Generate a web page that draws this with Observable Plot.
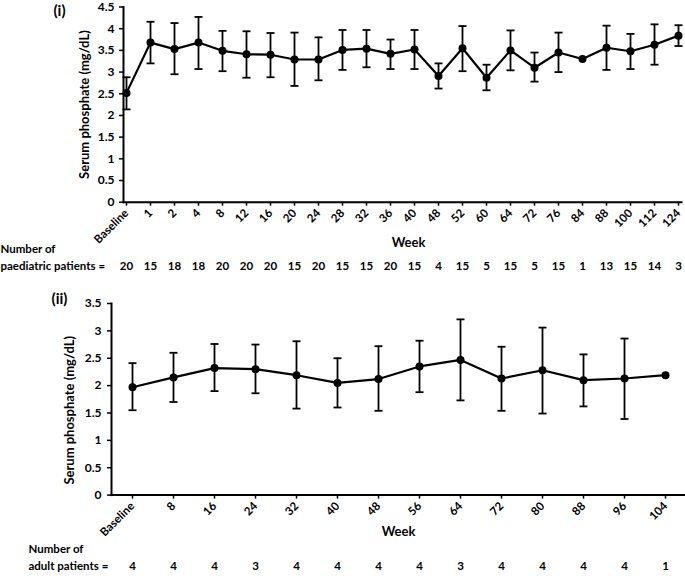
<!DOCTYPE html>
<html><head><meta charset="utf-8">
<script src="https://cdn.jsdelivr.net/npm/d3@7"></script>
<script src="https://cdn.jsdelivr.net/npm/@observablehq/plot@0.6"></script>
<style>
body{margin:0;background:#fff;}
#wrap{position:relative;width:685px;height:578px;}
#wrap svg{position:absolute;left:0;overflow:visible;}
</style></head><body><div id="wrap"></div>
<script>
// Panel (i): paediatric patients
const weeksPaed = ["Baseline","1","2","4","8","12","16","20","24","28","32","36","40","48","52","60","64","72","76","84","88","100","112","124"];
const meanPaed = [2.52,3.68,3.53,3.68,3.49,3.41,3.40,3.29,3.29,3.51,3.54,3.42,3.52,2.91,3.55,2.87,3.50,3.10,3.45,3.30,3.56,3.48,3.63,3.84];
const lowPaed  = [2.14,3.20,2.95,3.07,3.02,2.87,2.88,2.68,2.81,3.05,3.11,3.07,3.07,2.62,3.02,2.58,3.04,2.78,3.00,null,3.05,3.07,3.17,3.60];
const highPaed = [2.88,4.16,4.13,4.27,3.95,3.94,3.90,3.91,3.80,3.97,3.97,3.75,3.97,3.20,4.06,3.17,3.96,3.45,3.91,null,4.07,3.88,4.10,4.08];
const nPaed    = [20,15,18,18,20,20,20,15,20,15,15,20,15,4,15,5,15,5,15,1,13,15,14,3];
const yTicksPaed = [0,0.5,1,1.5,2,2.5,3,3.5,4,4.5];

// Panel (ii): adult patients
const weeksAdult = ["Baseline","8","16","24","32","40","48","56","64","72","80","88","96","104"];
const meanAdult = [1.97,2.15,2.32,2.30,2.19,2.05,2.12,2.35,2.47,2.13,2.28,2.10,2.13,2.19];
const lowAdult  = [1.55,1.70,1.90,1.86,1.58,1.60,1.54,1.88,1.73,1.54,1.49,1.62,1.39,null];
const highAdult = [2.41,2.60,2.76,2.75,2.81,2.50,2.72,2.82,3.21,2.71,3.06,2.57,2.86,null];
const nAdult    = [4,4,4,3,4,4,4,4,3,4,4,4,4,1];
const yTicksAdult = [0,0.5,1,1.5,2,2.5,3,3.5];

const yLabel = "Serum phosphate (mg/dL)";
const xLabel = "Week";

function rows(weeks, mean, low, high, n) {
  return weeks.map((w, i) => ({week: w, mean: mean[i], low: low[i], high: high[i], n: n[i]}));
}
const capSymbol = {draw(ctx, size) { const r = Math.sqrt(size / Math.PI); ctx.moveTo(-r, 0); ctx.lineTo(r, 0); }};

function panel(cfg) {
  const data = rows(cfg.weeks, cfg.mean, cfg.low, cfg.high, cfg.n);
  const err = data.filter(d => d.low != null);
  const one = s => [s];
  const id = d => d;
  const lbl = {text: id, lineAnchor: "middle"};
  return Plot.plot({
    width: 685, height: cfg.height,
    marginTop: cfg.mt, marginBottom: cfg.mb, marginLeft: cfg.ml, marginRight: cfg.mr,
    style: {fontFamily: "Lato, sans-serif", fontWeight: 700, fontSize: "11px", color: "#000", background: "transparent", overflow: "visible"},
    x: {type: "point", domain: cfg.weeks, padding: cfg.pad},
    y: {domain: cfg.ydomain},
    marks: [
      Plot.axisY({ticks: cfg.yticks, tickFormat: d => String(d), tickSize: 4, tickPadding: cfg.ytp, fontSize: 12, label: null, strokeWidth: 1.5}),
      Plot.axisX({tickRotate: -45, tickSize: 4, tickPadding: 5, fontSize: 11.5, label: null, strokeWidth: 1.5}),
      Plot.frame({anchor: "left", strokeWidth: 2}),
      Plot.frame({anchor: "bottom", strokeWidth: 2}),
      Plot.ruleX(err, {x: "week", y1: "low", y2: "high", strokeWidth: 1.8}),
      Plot.dot(err, {x: "week", y: "low", symbol: capSymbol, r: 4, fill: "none", stroke: "black", strokeWidth: 1.8}),
      Plot.dot(err, {x: "week", y: "high", symbol: capSymbol, r: 4, fill: "none", stroke: "black", strokeWidth: 1.8}),
      Plot.line(data, {x: "week", y: "mean", stroke: "black", strokeWidth: 2.2}),
      Plot.dot(data, {x: "week", y: "mean", r: 4, fill: "black"}),
      Plot.text(data, {x: "week", text: "n", frameAnchor: "bottom", lineAnchor: "middle", dy: cfg.countDy, fontSize: 11.5}),
      Plot.text(one(xLabel), {...lbl, frameAnchor: "bottom", dx: cfg.weekDx, dy: cfg.weekDy, fontSize: 13}),
      Plot.text(one(yLabel), {...lbl, frameAnchor: "left", textAnchor: "middle", rotate: -90, dx: cfg.ylDx, dy: cfg.ylDy, fontSize: 13}),
      Plot.text(one(cfg.tag), {...lbl, frameAnchor: "top-left", textAnchor: "middle", dx: cfg.tagDx, dy: cfg.tagDy, fontSize: 15}),
      Plot.text(one("Number of"), {...lbl, frameAnchor: "bottom-left", textAnchor: "start", dx: cfg.nDx, dy: cfg.countDy - 17, fontSize: 11.5}),
      Plot.text(one(cfg.nLabel), {...lbl, frameAnchor: "bottom-left", textAnchor: "start", dx: cfg.nDx, dy: cfg.countDy, fontSize: 11.5})
    ]
  });
}

const topChart = panel({
  weeks: weeksPaed, mean: meanPaed, low: lowPaed, high: highPaed, n: nPaed,
  height: 280, mt: 6.5, mb: 78.3, ml: 123, mr: 4, pad: 0,
  ydomain: [0, 4.5], yticks: yTicksPaed, ytp: 5,
  countDy: 64, weekDx: 6, weekDy: 40.3, ylDx: -39, ylDy: 0,
  tag: "(i)", tagDx: -64, tagDy: 4.5, nLabel: "paediatric patients =", nDx: -123
});
topChart.style.top = "0px";

const bottomChart = panel({
  weeks: weeksAdult, mean: meanAdult, low: lowAdult, high: highAdult, n: nAdult,
  height: 298, mt: 23, mb: 83.4, ml: 111, mr: 0, pad: 0.5,
  ydomain: [0, 3.5], yticks: yTicksAdult, ytp: 6,
  countDy: 71.4, weekDx: 0, weekDy: 36.4, ylDx: -42, ylDy: 11,
  tag: "(ii)", tagDx: -52, tagDy: -4.5, nLabel: "adult patients =", nDx: -83
});
bottomChart.style.top = "280px";

const wrap = document.getElementById("wrap");
wrap.appendChild(topChart);
wrap.appendChild(bottomChart);
</script>
</body></html>
